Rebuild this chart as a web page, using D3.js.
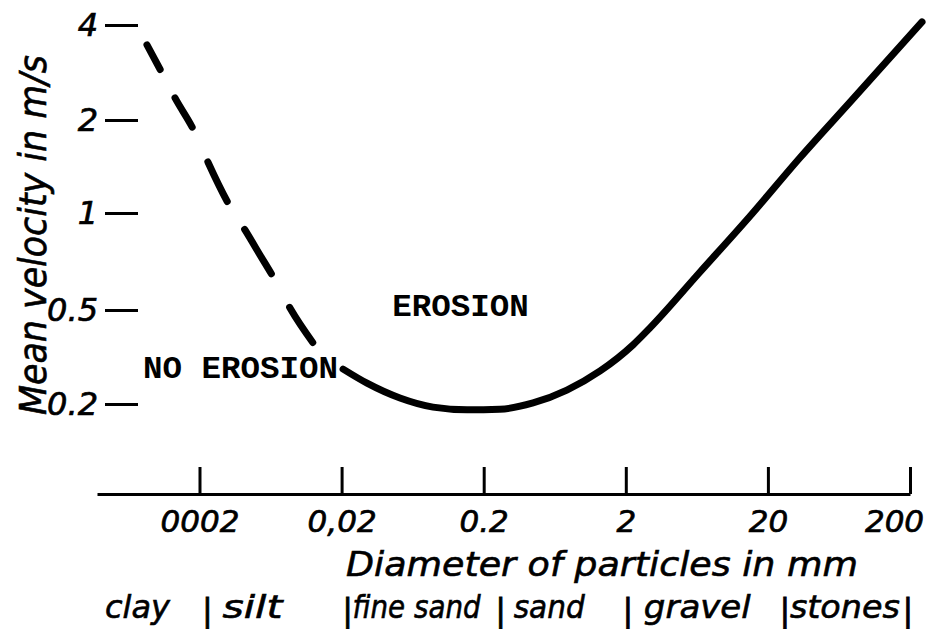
<!DOCTYPE html>
<html>
<head>
<meta charset="utf-8">
<script src="https://cdn.jsdelivr.net/npm/d3@7"></script>
<style>
  html, body { margin: 0; padding: 0; background: #fff; }
  svg { display: block; }
</style>
</head>
<body>
<svg id="chart" width="935" height="629"></svg>
<script>
// ---- data ----
const xTickValues = [0.002, 0.02, 0.2, 2, 20, 200];
const xTickLabels = ["0002", "0,02", "0.2", "2", "20", "200"];
const yTickValues = [0.2, 0.5, 1, 2, 4];
const yTickLabels = ["0.2", "0.5", "1", "2", "4"];

// dashed part (fine particles, cohesive) : diameter mm / velocity m/s
const dashedDiameter = [0.000854, 0.001107, 0.001345, 0.00186, 0.002296, 0.00328, 0.00418, 0.00533, 0.0068, 0.00867, 0.0134];
const dashedVelocity = [3.46, 2.78, 2.35, 1.82, 1.46, 1.05, 0.886, 0.741, 0.619, 0.507, 0.345];

// solid part
const solidDiameter = [0.0205, 0.0302, 0.0515, 0.088, 0.153, 0.26, 0.445, 0.77, 1.32, 2.25, 2.96, 6.66, 15.0, 33.6, 75.7, 243];
const solidVelocity = [0.281, 0.245, 0.212, 0.194, 0.189, 0.190, 0.202, 0.229, 0.276, 0.356, 0.42, 0.656, 0.979, 1.51, 2.28, 4.09];

const soilClasses = ["clay", "silt", "fine sand", "sand", "gravel", "stones"];
const soilBounds = [0.002, 0.02, 0.2, 2, 20, 200];

const regionLabels = ["NO EROSION", "EROSION"];
const regionAt = [[0.000801, 0.258], [0.0454, 0.47]]; // label anchor (diameter, velocity)

const xTitle = "Diameter of particles in mm";
const yTitle = "Mean velocity in m/s";

// ---- layout ----
const svg = d3.select("#chart");
const hand = "'DejaVu Sans', sans-serif";
const type = "'Liberation Mono', 'Courier New', monospace";

const x = d3.scaleLog().domain([0.00038, 200]).range([97, 910]);
// hand-drawn axis: equal spacing between the labelled velocities
const y = d3.scaleLog().domain([0.2, 0.5, 1, 2, 4]).range([404, 310, 213, 120, 25]);

const axisY = 494;

// x axis
const gx = svg.append("g")
  .attr("transform", `translate(0,${axisY})`)
  .call(d3.axisBottom(x)
    .tickValues(xTickValues)
    .tickFormat((d, i) => xTickLabels[i])
    .tickSizeInner(-27)
    .tickSizeOuter(0)
    .tickPadding(16));
gx.select(".domain").attr("stroke", "#000").attr("stroke-width", 3);
gx.selectAll(".tick line").attr("stroke", "#000").attr("stroke-width", 3);
gx.selectAll(".tick text")
  .attr("font-family", hand).attr("font-style", "italic")
  .attr("font-size", 31).attr("fill", "#000")
  .attr("stroke", "#000").attr("stroke-width", 0.7)
  .attr("dx", (d, i) => i === xTickValues.length - 1 ? -16 : 0);

// y axis
const gy = svg.append("g")
  .attr("transform", "translate(138,0)")
  .call(d3.axisLeft(y)
    .tickValues(yTickValues)
    .tickFormat((d, i) => yTickLabels[i])
    .tickSize(33)
    .tickPadding(7));
gy.select(".domain").remove();
gy.selectAll(".tick line").attr("stroke", "#000").attr("stroke-width", 3);
gy.selectAll(".tick text")
  .attr("font-family", hand).attr("font-style", "italic")
  .attr("font-size", 32).attr("fill", "#000")
  .attr("stroke", "#000").attr("stroke-width", 0.7);

// curves
const line = d3.line()
  .x(d => x(d[0]))
  .y(d => y(d[1]))
  .curve(d3.curveMonotoneX);

svg.append("path")
  .datum(dashedDiameter.map((d, i) => [d, dashedVelocity[i]]))
  .attr("d", line)
  .attr("fill", "none")
  .attr("stroke", "#000")
  .attr("stroke-width", 7)
  .attr("stroke-linecap", "round")
  .attr("stroke-dasharray", "28,32,34,38,44,33,52,38,42");

svg.append("path")
  .datum(solidDiameter.map((d, i) => [d, solidVelocity[i]]))
  .attr("d", line)
  .attr("fill", "none")
  .attr("stroke", "#000")
  .attr("stroke-width", 7)
  .attr("stroke-linecap", "round")
  .attr("stroke-linejoin", "round");

// region labels (typewritten)
svg.selectAll("text.region")
  .data(regionLabels)
  .join("text")
  .attr("class", "region")
  .attr("x", (d, i) => x(regionAt[i][0]))
  .attr("y", (d, i) => y(regionAt[i][1]))
  .attr("font-family", type)
  .attr("font-weight", "bold")
  .attr("font-size", 32)
  .attr("textLength", d => d.length * 19.5)
  .attr("lengthAdjust", "spacingAndGlyphs")
  .attr("fill", "#000")
  .text(d => d);

// axis titles
svg.append("text")
  .attr("x", 602).attr("y", 576)
  .attr("text-anchor", "middle")
  .attr("font-family", hand).attr("font-style", "italic")
  .attr("font-size", 34)
  .attr("textLength", 512).attr("lengthAdjust", "spacingAndGlyphs")
  .attr("fill", "#000").attr("stroke", "#000").attr("stroke-width", 0.6)
  .text(xTitle);

svg.append("text")
  .attr("transform", "translate(46,235) rotate(-90)")
  .attr("text-anchor", "middle")
  .attr("font-family", hand).attr("font-style", "italic")
  .attr("font-size", 37)
  .attr("textLength", 360).attr("lengthAdjust", "spacingAndGlyphs")
  .attr("fill", "#000").attr("stroke", "#000").attr("stroke-width", 0.6)
  .text(yTitle);

// soil classes row (hand lettered: small per-item nudges from the class boundaries)
const rowY = 618;
const starts = [x.domain()[0]].concat(soilBounds.slice(0, -1));
const labelNudge = [8, 23, 11, 30, 18, 22];
const labelWidth = [65, 60, 128, 71, 107, 110];
const sepNudge = [8, 6, 17, 2, 17, -2];

svg.selectAll("text.soil")
  .data(soilClasses)
  .join("text")
  .attr("class", "soil")
  .attr("font-family", hand).attr("font-style", "italic")
  .attr("font-size", 32)
  .attr("fill", "#000").attr("stroke", "#000").attr("stroke-width", 0.6)
  .text(d => d)
  .attr("transform", function (d, i) {
    const natural = this.getComputedTextLength() || labelWidth[i];
    const sx = labelWidth[i] / natural;
    return `translate(${x(starts[i]) + labelNudge[i]},${rowY}) scale(${sx},1)`;
  });

svg.selectAll("text.sep")
  .data(soilBounds)
  .join("text")
  .attr("class", "sep")
  .attr("x", (d, i) => x(d) + sepNudge[i])
  .attr("y", rowY + 3)
  .attr("text-anchor", "middle")
  .attr("font-family", hand)
  .attr("font-size", 32)
  .attr("fill", "#000").attr("stroke", "#000").attr("stroke-width", 0.8)
  .text("|");
</script>
</body>
</html>
